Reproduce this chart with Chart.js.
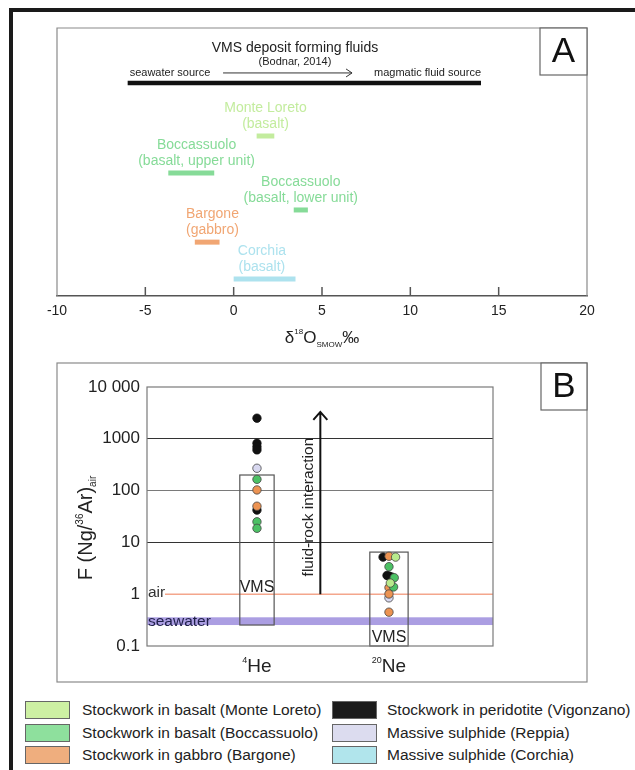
<!DOCTYPE html>
<html>
<head>
<meta charset="utf-8">
<script src="https://cdn.jsdelivr.net/npm/chart.js@4.4.1/dist/chart.umd.min.js"></script>
<style>
  body { margin: 0; background: #fff; font-family: "Liberation Sans", Arial, sans-serif; }
  #page { position: relative; width: 635px; height: 770px; overflow: hidden; background: #fff; }
  #frameTop { position: absolute; left: 9px; top: 8px; width: 626px; height: 4px; background: #1a1a1a; }
  #frameLeft { position: absolute; left: 9px; top: 8px; width: 4px; height: 762px; background: #1a1a1a; }
  #wrapA { position: absolute; left: 0; top: 0; width: 635px; height: 355px; }
  #wrapB { position: absolute; left: 0; top: 355px; width: 635px; height: 335px; }
  .legSw { position: absolute; width: 43px; height: 16px; border: 1px solid #666; }
  .legTx { position: absolute; font-size: 15.5px; color: #222; white-space: nowrap; line-height: 18px; }
</style>
</head>
<body>
<div id="page">
  <div id="frameTop"></div>
  <div id="frameLeft"></div>
  <div id="wrapA"><canvas id="chartA"></canvas></div>
  <div id="wrapB"><canvas id="chartB"></canvas></div>
  <div id="legend"></div>
</div>
<script>
const FONT = '"Liberation Sans", Arial, sans-serif';

// ---- パネルA: δ18O の範囲 ----
const oxyNames = ['Monte Loreto', 'Boccassuolo', 'Boccassuolo', 'Bargone', 'Corchia'];
const oxyRocks = ['(basalt)', '(basalt, upper unit)', '(basalt, lower unit)', '(gabbro)', '(basalt)'];
const oxyMin = [1.3, -3.7, 3.4, -2.2, 0];
const oxyMax = [2.3, -1.1, 4.2, -0.8, 3.5];
const oxyRow = [4.03, 5.41, 6.79, 7.99, 9.37];      // 上からの行位置
const oxyLabelX = [1.8, -2.1, 3.8, -1.2, 1.6];
const oxyColors = ['#c3ec9e', '#86db98', '#86db98', '#f1a673', '#ade2ee'];

// VMS 鉱床を作る流体の範囲 (Bodnar, 2014)
const vmsFluidRange = [-6, 14];
const vmsFluidRow = 2.05;
const oxyTicks = [-10, -5, 0, 5, 10, 15, 20];

// ---- パネルB: F(Ng/36Ar)air ----
const isoNames = ['He', 'Ne'];
const isoMass = ['4', '20'];
const yTickVals = [0.1, 1, 10, 100, 1000, 10000];
const yTickLabels = ['0.1', '1', '10', '100', '1000', '10 000'];
const gridVals = [10, 100, 1000];

// 各産地の値 (x=1: 4He, x=2: 20Ne, 小数は点の横ずれ)
const monteX = [2.05, 2.01];
const monteY = [5.2, 1.64];
const boccX = [1, 1, 1, 2.0, 2.04, 2.035];
const boccY = [165, 25, 18.7, 3.4, 2.08, 1.38];
const bargX = [1, 1, 2.0, 2.0, 2.0, 2.0];
const bargY = [103, 50, 5.4, 1.34, 1.01, 0.45];
const vigoX = [1, 1, 1, 1, 1, 1.955, 1.985, 2.0, 2.02];
const vigoY = [2500, 820, 700, 610, 42, 5.2, 2.3, 2.24, 2.15];
const reppX = [1, 2.0];
const reppY = [270, 0.85];

// VMS の範囲 (箱)
const vmsHe = [0.254, 200];
const vmsNe = [0.1, 6.5];
const seawaterBand = [0.254, 0.358];
const airValue = 1;
const arrowX = 1.48;
const arrowTop = 3300;

// 凡例
const legendNames = ['Stockwork in basalt (Monte Loreto)', 'Stockwork in basalt (Boccassuolo)', 'Stockwork in gabbro (Bargone)',
  'Stockwork in peridotite (Vigonzano)', 'Massive sulphide (Reppia)', 'Massive sulphide (Corchia)'];
const legendColors = ['#cdf0a3', '#8ee09d', '#efae7e', '#1c1c1c', '#dcdcef', '#b1e5ec'];
const pointColors = ['#b8ea8c', '#4cc165', '#ec9352', '#111111', '#d8d8f0'];

// 上付き・下付き付きの文字列を描く
function drawParts(ctx, parts, x, y, align) {
  let total = 0;
  parts.forEach(p => { ctx.font = p.size + 'px ' + FONT; total += ctx.measureText(p.t).width; });
  let cx = align === 'center' ? x - total / 2 : (align === 'right' ? x - total : x);
  ctx.textAlign = 'left';
  ctx.textBaseline = 'alphabetic';
  parts.forEach(p => {
    ctx.font = p.size + 'px ' + FONT;
    ctx.fillText(p.t, cx, y + (p.dy || 0));
    cx += ctx.measureText(p.t).width;
  });
}

function letterBox(ctx, l, t, r, b, letter) {
  ctx.fillStyle = '#fff';
  ctx.fillRect(l, t, r - l, b - t);
  ctx.strokeStyle = '#666';
  ctx.lineWidth = 1.2;
  ctx.strokeRect(l, t, r - l, b - t);
  ctx.fillStyle = '#111';
  ctx.font = '35px ' + FONT;
  ctx.textAlign = 'center';
  ctx.textBaseline = 'middle';
  ctx.fillText(letter, (l + r) / 2, (t + b) / 2 + 1);
}

// パネルAの飾り
const panelAExtras = {
  id: 'panelAExtras',
  afterDraw(chart) {
    const { ctx, chartArea: ca, scales: { x, y } } = chart;
    ctx.save();
    ctx.strokeStyle = '#8a8a8a';
    ctx.lineWidth = 1.2;
    ctx.beginPath();
    ctx.moveTo(ca.left, ca.bottom); ctx.lineTo(ca.left, ca.top);
    ctx.lineTo(ca.right, ca.top); ctx.lineTo(ca.right, ca.bottom);
    ctx.stroke();

    // 内向きの目盛り
    ctx.strokeStyle = '#555';
    ctx.lineWidth = 1.5;
    oxyTicks.slice(1, -1).forEach(v => {
      const px = x.getPixelForValue(v);
      ctx.beginPath(); ctx.moveTo(px, ca.bottom); ctx.lineTo(px, ca.bottom - 9); ctx.stroke();
    });

    letterBox(ctx, ca.right - 47, ca.top, ca.right, ca.top + 47, 'A');

    // 流体のラベル
    const by = y.getPixelForValue(vmsFluidRow);
    ctx.fillStyle = '#222';
    ctx.font = '14px ' + FONT;
    ctx.textAlign = 'center'; ctx.textBaseline = 'middle';
    ctx.fillText('VMS deposit forming fluids', x.getPixelForValue(3.47), by - 35);
    ctx.font = '11px ' + FONT;
    ctx.fillText('(Bodnar, 2014)', x.getPixelForValue(3.47), by - 21);
    ctx.textAlign = 'left';
    ctx.fillText('seawater source', x.getPixelForValue(vmsFluidRange[0]) + 2, by - 10);
    ctx.textAlign = 'right';
    ctx.fillText('magmatic fluid source', x.getPixelForValue(vmsFluidRange[1]), by - 10);
    const ax0 = x.getPixelForValue(-0.6), ax1 = x.getPixelForValue(6.7), ay = by - 10;
    ctx.strokeStyle = '#333'; ctx.lineWidth = 1;
    ctx.beginPath(); ctx.moveTo(ax0, ay); ctx.lineTo(ax1, ay);
    ctx.moveTo(ax1 - 6, ay - 4); ctx.lineTo(ax1, ay); ctx.lineTo(ax1 - 6, ay + 4);
    ctx.stroke();

    // 産地ラベル
    ctx.font = '14px ' + FONT;
    ctx.textAlign = 'center'; ctx.textBaseline = 'middle';
    oxyNames.forEach((n, i) => {
      const lx = x.getPixelForValue(oxyLabelX[i]);
      const ly = y.getPixelForValue(oxyRow[i]);
      ctx.fillStyle = oxyColors[i];
      ctx.fillText(n, lx, ly - 28);
      ctx.fillText(oxyRocks[i], lx, ly - 12);
    });

    // 軸タイトル δ18O SMOW ‰
    ctx.fillStyle = '#222';
    drawParts(ctx, [
      { t: 'δ', size: 17 }, { t: '18', size: 8, dy: -9 }, { t: 'O', size: 17 },
      { t: 'SMOW', size: 8, dy: 4 }, { t: '‰', size: 17 }
    ], (ca.left + ca.right) / 2, 343, 'center');
    ctx.restore();
  }
};

const datasetsA = oxyNames.map((n, i) => ({
  label: n + ' ' + oxyRocks[i],
  data: [{ x: oxyMin[i], y: oxyRow[i] }, { x: oxyMax[i], y: oxyRow[i] }],
  borderColor: oxyColors[i],
  borderWidth: 5,
  borderCapStyle: 'butt',
  pointRadius: 0
}));
datasetsA.push({
  label: 'VMS deposit forming fluids',
  data: [{ x: vmsFluidRange[0], y: vmsFluidRow }, { x: vmsFluidRange[1], y: vmsFluidRow }],
  borderColor: '#111',
  borderWidth: 4.5,
  borderCapStyle: 'butt',
  pointRadius: 0
});

new Chart(document.getElementById('chartA'), {
  type: 'line',
  data: { datasets: datasetsA },
  options: {
    responsive: true,
    maintainAspectRatio: false,
    animation: false,
    layout: { padding: { left: 57, right: 48, top: 28, bottom: 0 } },
    plugins: { legend: { display: false }, tooltip: { enabled: false } },
    scales: {
      x: {
        type: 'linear', min: -10, max: 20,
        afterBuildTicks: s => { s.ticks = oxyTicks.map(v => ({ value: v })); },
        afterFit: s => { s.height = 59; },
        grid: { display: false, drawTicks: false },
        border: { display: true, color: '#555', width: 1.5 },
        ticks: { color: '#222', padding: 7, font: { size: 14, family: FONT } }
      },
      y: { type: 'linear', min: 0, max: 10, reverse: true, display: false }
    }
  },
  plugins: [panelAExtras]
});

// パネルBの飾り
const panelBBack = {
  id: 'panelBBack',
  beforeDatasetsDraw(chart) {
    const { ctx, chartArea: ca, scales: { x, y } } = chart;
    ctx.save();
    // 海水の帯
    const b0 = y.getPixelForValue(seawaterBand[0]), b1 = y.getPixelForValue(seawaterBand[1]);
    ctx.fillStyle = '#ab9ee2';
    ctx.fillRect(ca.left, b1, ca.right - ca.left, b0 - b1);
    // 大気の線
    const ay = y.getPixelForValue(airValue);
    ctx.strokeStyle = '#f4a68c'; ctx.lineWidth = 1.5;
    ctx.beginPath(); ctx.moveTo(ca.left + 18, ay); ctx.lineTo(ca.right, ay); ctx.stroke();
    // VMS の箱
    ctx.strokeStyle = '#555'; ctx.lineWidth = 1.2;
    [[1, 0.13, vmsHe], [2, 0.145, vmsNe]].forEach(([cx, hw, r]) => {
      const l = x.getPixelForValue(cx - hw), rr = x.getPixelForValue(cx + hw);
      const t = y.getPixelForValue(r[1]), b = y.getPixelForValue(r[0]);
      ctx.strokeRect(l, t, rr - l, b - t);
    });
    // 矢印
    const px = x.getPixelForValue(arrowX), top = y.getPixelForValue(arrowTop);
    ctx.strokeStyle = '#111'; ctx.lineWidth = 2;
    ctx.beginPath(); ctx.moveTo(px, ay); ctx.lineTo(px, top);
    ctx.moveTo(px - 7, top + 8); ctx.lineTo(px, top); ctx.lineTo(px + 7, top + 8);
    ctx.stroke();
    ctx.restore();
  },
  afterDraw(chart) {
    const { ctx, chartArea: ca, scales: { x, y } } = chart;
    ctx.save();
    // 枠
    ctx.strokeStyle = '#7a7a7a'; ctx.lineWidth = 1.2;
    ctx.strokeRect(ca.left, ca.top, ca.right - ca.left, ca.bottom - ca.top);
    ctx.strokeStyle = '#8a8a8a';
    ctx.strokeRect(57, 8, 530, 319);
    letterBox(ctx, 541, 8, 587, 55, 'B');

    // 文字
    ctx.fillStyle = '#333';
    ctx.font = '15.5px ' + FONT;
    ctx.textAlign = 'left'; ctx.textBaseline = 'middle';
    ctx.fillText('air', ca.left + 1, y.getPixelForValue(airValue) - 1);
    ctx.fillStyle = '#1f1f48';
    ctx.fillText('seawater', ca.left + 1, y.getPixelForValue(0.3));
    ctx.fillStyle = '#222';
    ctx.font = '16px ' + FONT;
    ctx.textAlign = 'center';
    ctx.fillText('VMS', x.getPixelForValue(1), y.getPixelForValue(airValue) - 7);
    ctx.fillText('VMS', x.getPixelForValue(2), ca.bottom - 8);

    // fluid-rock interaction
    const px = x.getPixelForValue(arrowX);
    const midY = (y.getPixelForValue(airValue) + y.getPixelForValue(arrowTop)) / 2 + 4;
    ctx.save();
    ctx.translate(px - 12, midY);
    ctx.rotate(-Math.PI / 2);
    ctx.font = '15.5px ' + FONT;
    ctx.fillText('fluid-rock interaction', 0, 0);
    ctx.restore();

    // x ラベル
    ctx.fillStyle = '#222';
    isoNames.forEach((n, i) => {
      drawParts(ctx, [{ t: isoMass[i], size: 9, dy: -9 }, { t: n, size: 19 }],
        x.getPixelForValue(i + 1), ca.bottom + 26, 'center');
    });

    // y 軸タイトル
    ctx.save();
    ctx.translate(92, 173);
    ctx.rotate(-Math.PI / 2);
    drawParts(ctx, [
      { t: 'F (Ng/', size: 20 }, { t: '36', size: 10, dy: -9 }, { t: 'Ar)', size: 20 },
      { t: 'air', size: 10, dy: 4 }
    ], 0, 0, 'center');
    ctx.restore();
    ctx.restore();
  }
};

const groupsB = [
  [monteX, monteY], [boccX, boccY], [bargX, bargY], [vigoX, vigoY], [reppX, reppY]
];
const datasetsB = groupsB.map(([xs, ys], i) => ({
  label: legendNames[i],
  data: xs.map((v, j) => ({ x: v, y: ys[j] })),
  backgroundColor: pointColors[i],
  borderColor: i === 3 ? '#111' : '#444',
  borderWidth: 0.8,
  pointRadius: 4.2
}));

new Chart(document.getElementById('chartB'), {
  type: 'scatter',
  data: { datasets: datasetsB },
  options: {
    responsive: true,
    maintainAspectRatio: false,
    animation: false,
    layout: { padding: { left: 87, right: 142, top: 32, bottom: 44 } },
    plugins: { legend: { display: false }, tooltip: { enabled: false } },
    scales: {
      x: { type: 'linear', min: 0.167, max: 2.788, display: false },
      y: {
        type: 'logarithmic', min: 0.1, max: 10000,
        afterBuildTicks: s => { s.ticks = yTickVals.map(v => ({ value: v })); },
        afterFit: s => { s.width = 60; },
        grid: {
          drawTicks: false,
          lineWidth: 1,
          color: c => c.tick && gridVals.includes(c.tick.value) ? (c.tick.value === 100 ? '#7a7a7a' : '#333') : 'rgba(0,0,0,0)'
        },
        border: { display: false },
        ticks: {
          color: '#222', padding: 7, font: { size: 17, family: FONT },
          callback: v => { const k = yTickVals.indexOf(v); return k >= 0 ? yTickLabels[k] : ''; }
        }
      }
    }
  },
  plugins: [panelBBack]
});

// 凡例 (HTML)
const legendEl = document.getElementById('legend');
legendNames.forEach((n, i) => {
  const col = i < 3 ? 0 : 1;
  const row = i % 3;
  const top = 701 + row * 22.5;
  const sw = document.createElement('div');
  sw.className = 'legSw';
  sw.style.left = (col ? 332 : 25) + 'px';
  sw.style.top = top + 'px';
  sw.style.background = legendColors[i];
  const tx = document.createElement('div');
  tx.className = 'legTx';
  tx.style.left = (col ? 387 : 82) + 'px';
  tx.style.top = top + 'px';
  tx.textContent = n;
  legendEl.appendChild(sw);
  legendEl.appendChild(tx);
});
</script>
</body>
</html>
